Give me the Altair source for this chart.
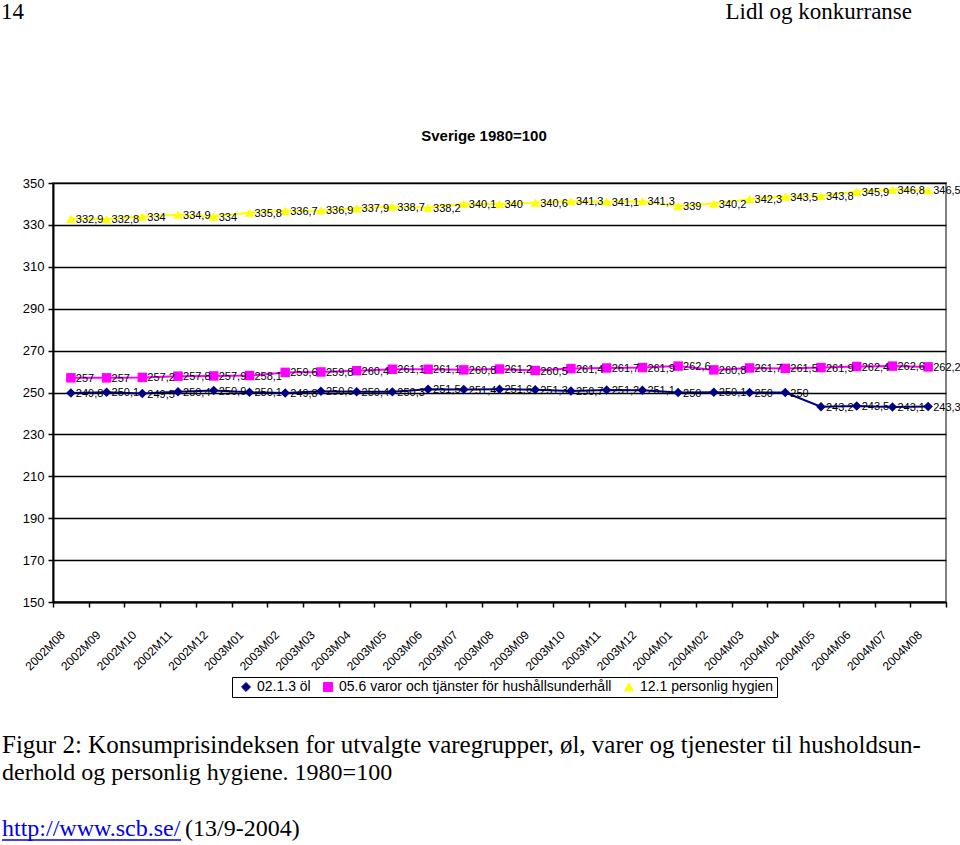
import altair as alt
import pandas as pd

months = ["2002M08", "2002M09", "2002M10", "2002M11", "2002M12",
          "2003M01", "2003M02", "2003M03", "2003M04", "2003M05", "2003M06",
          "2003M07", "2003M08", "2003M09", "2003M10", "2003M11", "2003M12",
          "2004M01", "2004M02", "2004M03", "2004M04", "2004M05", "2004M06",
          "2004M07", "2004M08"]

ol = [249.8, 250.1, 249.5, 250.4, 250.9, 250.1, 249.8, 250.6, 250.4, 250.3,
      251.5, 251.4, 251.6, 251.3, 250.7, 251.2, 251.1, 250, 250.1, 250, 250,
      243.2, 243.5, 243.1, 243.3]
varor = [257, 257, 257.2, 257.8, 257.9, 258.1, 259.6, 259.8, 260.4, 261.1,
         261.1, 260.8, 261.2, 260.5, 261.4, 261.7, 261.9, 262.6, 260.8, 261.7,
         261.5, 261.9, 262.4, 262.6, 262.2]
hygien = [332.9, 332.8, 334, 334.9, 334, 335.8, 336.7, 336.9, 337.9, 338.7,
          338.2, 340.1, 340, 340.6, 341.3, 341.1, 341.3, 339, 340.2, 342.3,
          343.5, 343.8, 345.9, 346.8, 346.5]

series_names = ["02.1.3 öl", "05.6 varor och tjänster för hushållsunderhåll",
                "12.1 personlig hygien"]
series_colors = ["#000080", "#FF00FF", "#FFFF00"]
series_shapes = ["diamond", "square", "triangle-up"]
y_ticks = [150, 170, 190, 210, 230, 250, 270, 290, 310, 330, 350]

rows = []
for name, vals in zip(series_names, [ol, varor, hygien]):
    for m, v in zip(months, vals):
        rows.append({"month": m, "value": v, "series": name,
                     "label": f"{v:g}".replace(".", ",")})
df = pd.DataFrame(rows)

W, H = 893, 419
L, T = 53, 183

x_enc = alt.X("month:N", sort=months, bandPosition=0.5,
              scale=alt.Scale(type="band", paddingInner=0, paddingOuter=0),
              axis=alt.Axis(title=None, tickBand="extent", labelAngle=-45,
                            labelAlign="right", labelBaseline="top",
                            labelPadding=22, labelOffset=-12,
                            labelFont="Liberation Sans Narrow, Liberation Sans",
                            labelFontSize=12, labelColor="black",
                            domainColor="black", domainWidth=2,
                            tickColor="black", tickWidth=1.5, tickSize=5,
                            grid=False))
y_enc = alt.Y("value:Q",
              scale=alt.Scale(domain=[150, 350], nice=False, zero=False),
              axis=alt.Axis(title=None, values=y_ticks, labelFont="Liberation Sans",
                            labelFontSize=13, labelColor="black",
                            domainColor="black", domainWidth=2,
                            tickColor="black", tickSize=5, tickWidth=1.5,
                            labelPadding=4,
                            grid=True, gridColor="black", gridWidth=1.3))
leg = alt.Legend(title=None, orient="none", legendX=179, legendY=494,
                 direction="horizontal", strokeColor="black", fillColor="white",
                 padding=3, labelFont="Liberation Sans", labelFontSize=14,
                 labelColor="black", columnPadding=6, symbolSize=80,
                 symbolOffset=4, labelLimit=400, symbolStrokeWidth=1)
color_enc = alt.Color("series:N",
                      scale=alt.Scale(domain=series_names, range=series_colors),
                      legend=leg)
shape_enc = alt.Shape("series:N",
                      scale=alt.Scale(domain=series_names, range=series_shapes),
                      legend=leg)

base = alt.Chart(df)
lines = base.mark_line(strokeWidth=2).encode(
    x=x_enc, y=y_enc, color=color_enc, detail="series:N")
points = base.mark_point(filled=True, size=90, opacity=1).encode(
    x=x_enc, y=y_enc, color=color_enc, shape=shape_enc)
labels = base.mark_text(align="left", baseline="middle", dx=5, dy=1,
                        font="Liberation Sans", fontSize=11, color="black").encode(
    x=x_enc, y=y_enc, text="label:N")


def txt(s, x, y, **kw):
    return alt.Chart(pd.DataFrame({"t": [s]})).mark_text(**kw).encode(
        text="t:N", x=alt.value(x), y=alt.value(y))


serif = "Liberation Serif"
title = txt("Sverige 1980=100", 484 - L, 136 - T, align="center", baseline="middle",
            font="Liberation Sans", fontSize=15, fontWeight="bold", color="black")
h1 = txt("14", 1 - L, 12 - T, align="left", baseline="middle", font=serif,
         fontSize=23, color="black")
h2 = txt("Lidl og konkurranse", 912 - L, 12 - T, align="right", baseline="middle",
         font=serif, fontSize=23, color="black")
c1 = txt("Figur 2: Konsumprisindeksen for utvalgte varegrupper, øl, varer og tjenester til husholdsun-",
         2 - L, 745 - T, align="left", baseline="middle", font=serif, fontSize=25,
         color="black")
c2 = txt("derhold og personlig hygiene. 1980=100", 2 - L, 773 - T, align="left",
         baseline="middle", font=serif, fontSize=24, color="black")
c3a = txt("http://www.scb.se/", 2 - L, 829 - T, align="left", baseline="middle",
          font=serif, fontSize=24, color="#0000EE")
c3b = txt("(13/9-2004)", 185 - L, 829 - T, align="left", baseline="middle",
          font=serif, fontSize=24, color="black")
underline = alt.Chart(pd.DataFrame({"a": [0]})).mark_rule(color="#0000EE", strokeWidth=1.5).encode(
    x=alt.value(2 - L), x2=alt.value(181 - L), y=alt.value(840 - T))

chart = alt.layer(lines, points, labels, title, h1, h2, c1, c2, c3a, c3b, underline).properties(
    width=W, height=H,
    autosize=alt.AutoSizeParams(type="none"),
    padding={"left": L, "top": T, "right": 960 - L - W, "bottom": 845 - T - H},
    background="white",
).configure_view(stroke="#808080", strokeWidth=2)

chart.save("out.html", embed_options={"renderer": "svg", "actions": False})
